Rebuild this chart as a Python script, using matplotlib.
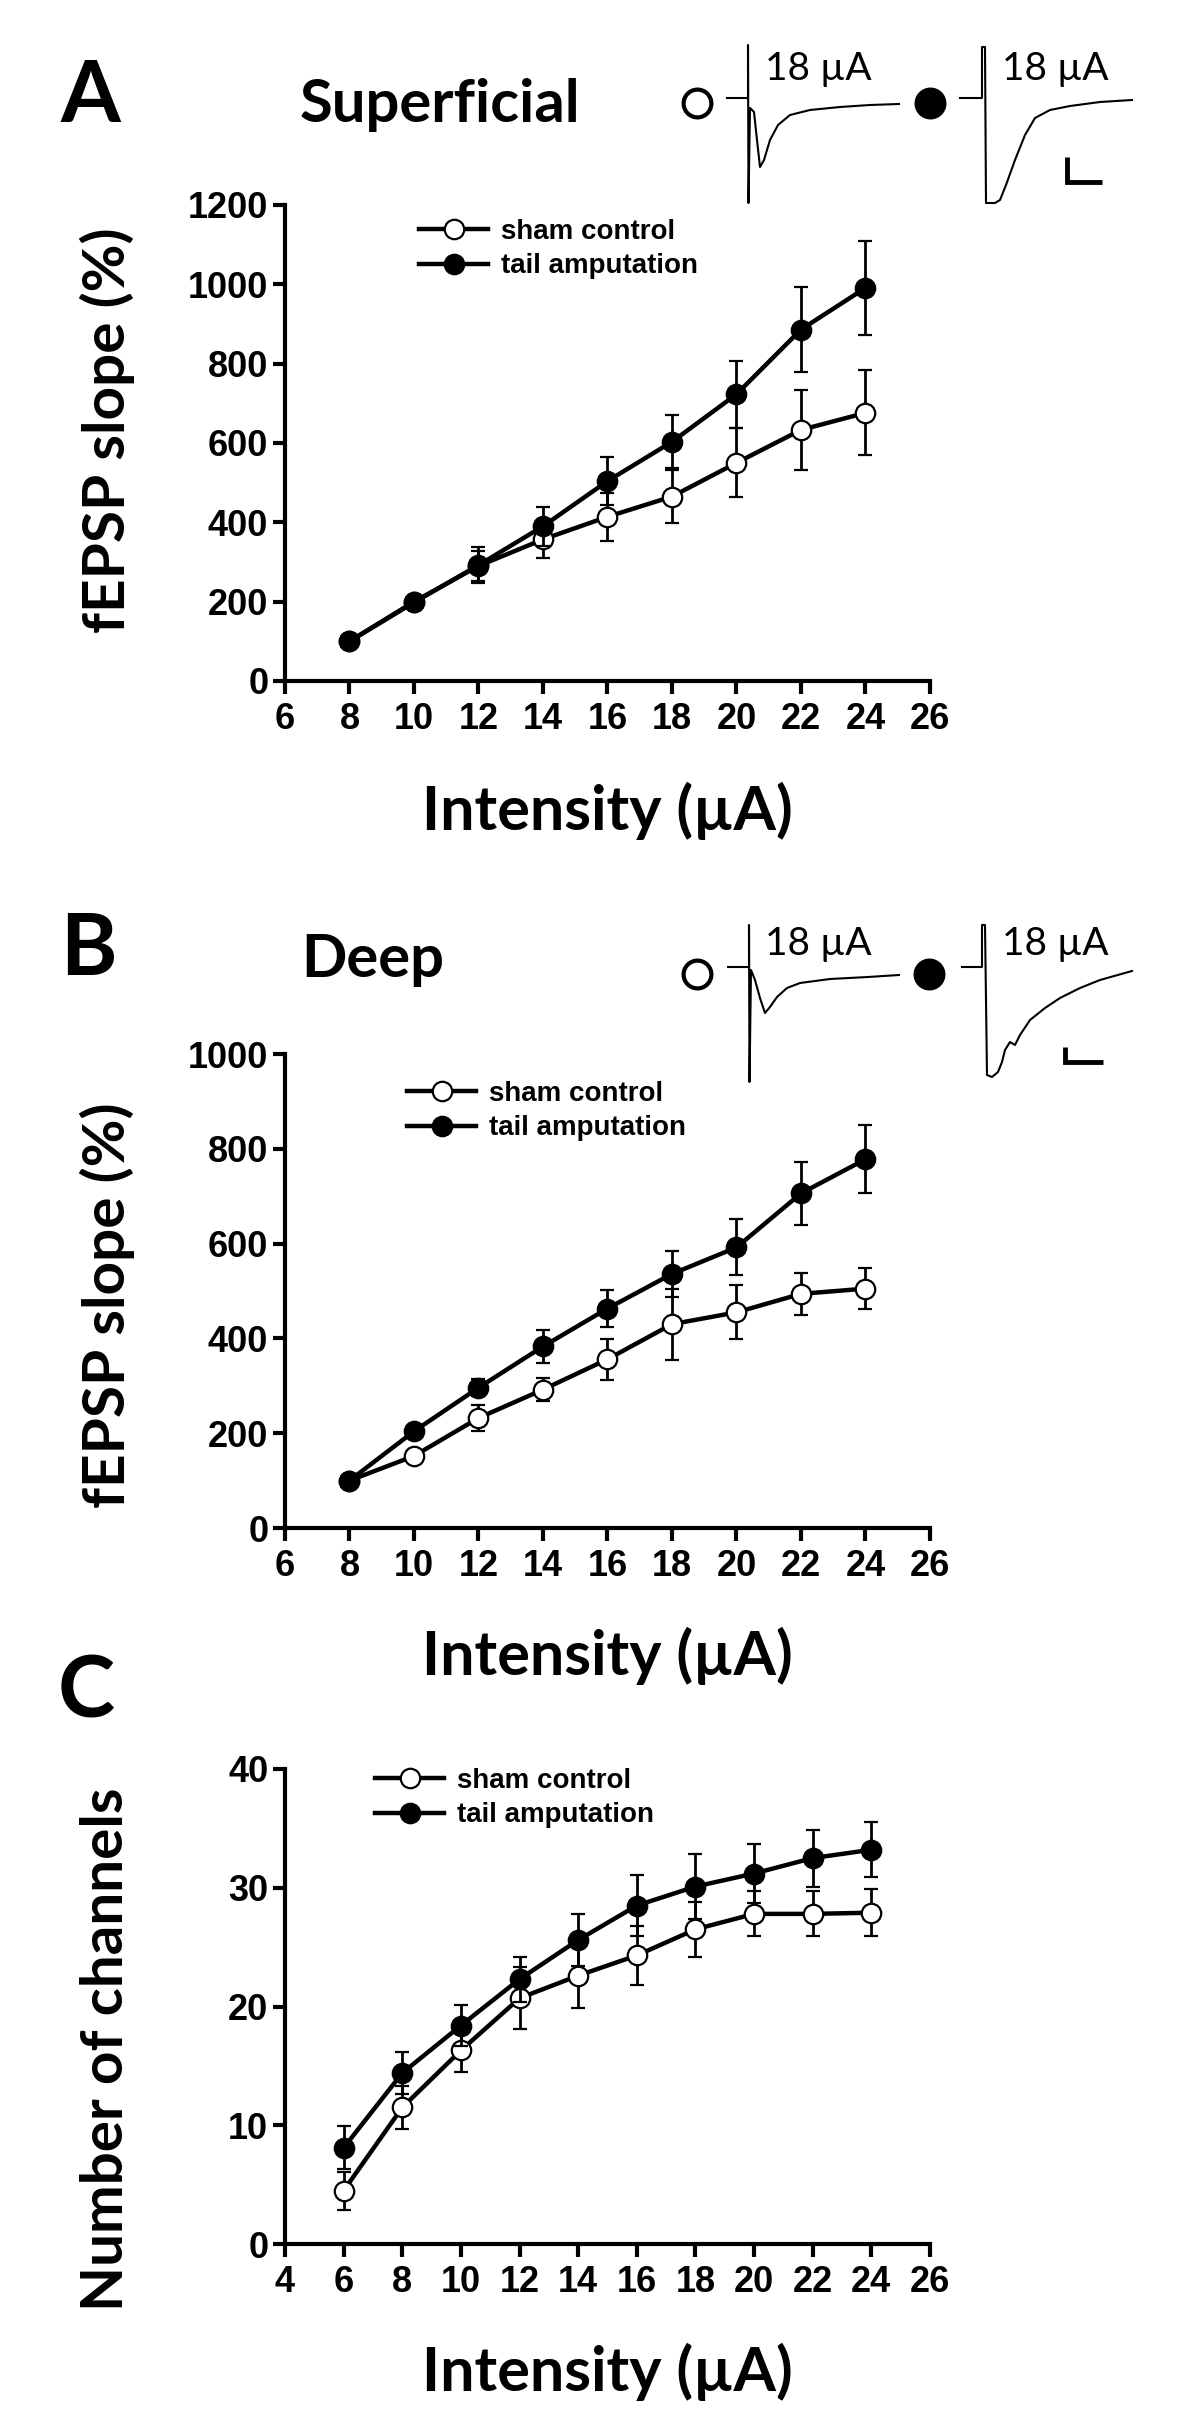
import matplotlib
matplotlib.use('Agg')
import matplotlib.pyplot as plt
from matplotlib.font_manager import FontProperties

# ---------------- data ----------------
intensity_ab = [8, 10, 12, 14, 16, 18, 20, 22, 24]
a_sham = [100, 200, 290, 357, 414, 465, 550, 633, 676]
a_sham_err = [0, 8, 38, 47, 60, 67, 87, 100, 107]
a_tail = [100, 198, 292, 390, 504, 603, 723, 886, 991]
a_tail_err = [0, 10, 45, 49, 60, 67, 84, 108, 118]

b_sham = [100, 152, 232, 292, 356, 430, 455, 494, 505]
b_sham_err = [0, 12, 27, 24, 43, 75, 57, 45, 44]
b_tail = [100, 204, 296, 383, 463, 536, 592, 706, 778]
b_tail_err = [0, 8, 18, 35, 40, 48, 59, 66, 72]

intensity_c = [6, 8, 10, 12, 14, 16, 18, 20, 22, 24]
c_sham = [4.5, 11.5, 16.3, 20.7, 22.6, 24.3, 26.5, 27.8, 27.8, 27.9]
c_sham_err = [1.6, 1.8, 1.8, 2.6, 2.7, 2.5, 2.3, 1.9, 1.9, 2.0]
c_tail = [8.1, 14.4, 18.4, 22.3, 25.6, 28.5, 30.1, 31.2, 32.5, 33.2]
c_tail_err = [1.8, 1.8, 1.7, 1.9, 2.2, 2.6, 2.7, 2.5, 2.4, 2.3]

xticks_ab = [6, 8, 10, 12, 14, 16, 18, 20, 22, 24, 26]
xticks_c = [4, 6, 8, 10, 12, 14, 16, 18, 20, 22, 24, 26]
yticks_a = [0, 200, 400, 600, 800, 1000, 1200]
yticks_b = [0, 200, 400, 600, 800, 1000]
yticks_c = [0, 10, 20, 30, 40]

legend_labels = ['sham control', 'tail amputation']
stim_label = '18 µA'

# example fEPSP traces: time offset and deflection (illustrative recordings)
trA_sham_t = [0, 18, 21, 21, 21.5, 23, 27, 30, 33, 37, 43, 51, 63, 83, 113, 143, 172]
trA_sham_v = [0, 0, 0, 53, -105, -10, -14, -42, -69, -62, -42, -27, -17, -12, -9, -7, -6]
trA_tail_t = [0, 20, 22, 22, 25, 26, 35, 40, 46, 55, 65, 75, 90, 110, 140, 172]
trA_tail_v = [0, 0, 0, 51, 51, -105, -105, -102, -87, -62, -37, -20, -12, -8, -4, -2]
trB_sham_t = [0, 19, 21, 21, 21.5, 23, 27, 32, 37, 42, 49, 59, 72, 102, 140, 171]
trB_sham_v = [0, 0, 0, 42, -115, -3, -13, -31, -46, -40, -30, -21, -16, -12, -10, -8]
trB_tail_t = [0, 18, 20, 20, 23, 25, 30, 36, 40, 43, 48, 53, 58, 68, 83, 98, 118, 138, 170]
trB_tail_v = [0, 0, 0, 42, 42, -108, -110, -105, -95, -83, -75, -78, -68, -53, -41, -31, -21, -13, -4]

# ---------------- style ----------------
W, H = 1200, 2414
fig = plt.figure(figsize=(W / 100, H / 100), dpi=100)

TICK_FAM = ['Liberation Sans', 'DejaVu Sans']
LAB_FAM = ['Lato', 'DejaVu Sans']
tick_fp = FontProperties(family=TICK_FAM, weight='bold', size=26)
leg_fp = FontProperties(family=TICK_FAM, weight='bold', size=20)


def px_axes(left, top, right, bottom):
    return fig.add_axes([left / W, 1 - bottom / H, (right - left) / W, (bottom - top) / H])


def style_axes(ax, xlim, ylim, xticks, yticks):
    ax.set_xlim(*xlim)
    ax.set_ylim(*ylim)
    ax.set_xticks(xticks)
    ax.set_yticks(yticks)
    for s in ['top', 'right']:
        ax.spines[s].set_visible(False)
    for s in ['left', 'bottom']:
        ax.spines[s].set_linewidth(3.0)
    ax.tick_params(axis='both', direction='out', length=9, width=3.0, pad=3)
    ax.tick_params(axis='x', pad=6)
    for lab in ax.get_xticklabels() + ax.get_yticklabels():
        lab.set_fontproperties(tick_fp)
    ax.patch.set_alpha(0)


def plot_series(ax, x, sham, sham_err, tail, tail_err):
    kw = dict(color='black', lw=3.2, elinewidth=2.0, capsize=5, capthick=2.0,
              marker='o', ms=14, mec='black', mew=1.6, clip_on=False)
    e1 = ax.errorbar(x, sham, yerr=sham_err, mfc='white', zorder=3, **kw)
    e2 = ax.errorbar(x, tail, yerr=tail_err, mfc='black', zorder=4, **kw)
    return [e1[0], e2[0]]


def add_legend(ax, handles, left_px, top_px):
    ax.legend(handles, legend_labels, loc='upper left',
              bbox_to_anchor=(left_px / W, 1 - top_px / H), bbox_transform=fig.transFigure,
              frameon=False, prop=leg_fp, handlelength=2.5, handletextpad=0.45,
              borderpad=0, borderaxespad=0, labelspacing=0.3, numpoints=1)


def set_labels(ax, ylabel, ylab_y, xlab_off):
    ax.set_xlabel('Intensity (µA)', family=LAB_FAM, fontweight='bold', fontsize=44)
    ax.set_ylabel(ylabel, family=LAB_FAM, fontweight='bold', fontsize=42)
    ax.xaxis.set_label_coords(0.5, xlab_off)
    ax.xaxis.label.set_va('center')
    ax.yaxis.set_label_coords(-0.276, ylab_y)
    ax.yaxis.label.set_va('center')


# ---------------- panel A ----------------
axA = px_axes(285, 205, 930, 681)
hA = plot_series(axA, intensity_ab, a_sham, a_sham_err, a_tail, a_tail_err)
style_axes(axA, (6, 26), (0, 1200), xticks_ab, yticks_a)
add_legend(axA, hA, 419, 219)
set_labels(axA, 'fEPSP slope (%)', 0.527, -0.273)

# ---------------- panel B ----------------
axB = px_axes(285, 1054, 930, 1528)
hB = plot_series(axB, intensity_ab, b_sham, b_sham_err, b_tail, b_tail_err)
style_axes(axB, (6, 26), (0, 1000), xticks_ab, yticks_b)
add_legend(axB, hB, 407, 1081)
set_labels(axB, 'fEPSP slope (%)', 0.47, -0.27)

# ---------------- panel C ----------------
axC = px_axes(285, 1769, 930, 2244)
hC = plot_series(axC, intensity_c, c_sham, c_sham_err, c_tail, c_tail_err)
style_axes(axC, (4, 26), (0, 40), xticks_c, yticks_c)
add_legend(axC, hC, 375, 1768)
set_labels(axC, 'Number of channels', 0.41, -0.27)

# ---------------- overlay: panel letters, titles, traces ----------------
ov = fig.add_axes([0, 0, 1, 1])
ov.set_xlim(0, W)
ov.set_ylim(H, 0)
ov.axis('off')
ov.patch.set_alpha(0)

for letter, (lx, ly) in zip(['A', 'B', 'C'], [(90, 122), (88, 975), (86, 1718)]):
    ov.text(lx, ly, letter, family=LAB_FAM, fontweight='bold', fontsize=62,
            ha='center', va='baseline')
ov.text(300, 122, 'Superficial', family=LAB_FAM, fontweight='bold', fontsize=43,
        ha='left', va='baseline')
ov.text(301, 977, 'Deep', family=LAB_FAM, fontweight='bold', fontsize=43,
        ha='left', va='baseline')


def draw_trace(t, v, x0, y0):
    ov.plot([x0 + a for a in t], [y0 - b for b in v], color='black', lw=1.5,
            solid_joinstyle='round')


for (t, v, x0, y0) in [(trA_sham_t, trA_sham_v, 727, 98), (trA_tail_t, trA_tail_v, 960, 98),
                       (trB_sham_t, trB_sham_v, 728, 967), (trB_tail_t, trB_tail_v, 962, 967)]:
    draw_trace(t, v, x0, y0)

for (cx, cy, fc) in [(697, 103, 'white'), (930, 103, 'black'), (697, 974, 'white'), (929, 974, 'black')]:
    ov.plot([cx], [cy], marker='o', ms=20, mfc=fc, mec='black', mew=3)

for (tx, ty) in [(765, 80), (1002, 80), (765, 955), (1002, 955)]:
    ov.text(tx, ty, stim_label, family=LAB_FAM, fontsize=28, ha='left', va='baseline')

# scale bars
for (sx, sy, sh, sw) in [(1067, 182, 25, 35), (1065, 1062, 15, 38)]:
    ov.plot([sx, sx, sx + sw], [sy - sh, sy, sy], color='black', lw=3.5,
            solid_joinstyle='miter', solid_capstyle='butt')

fig.savefig('out.png', dpi=100, facecolor='white')
